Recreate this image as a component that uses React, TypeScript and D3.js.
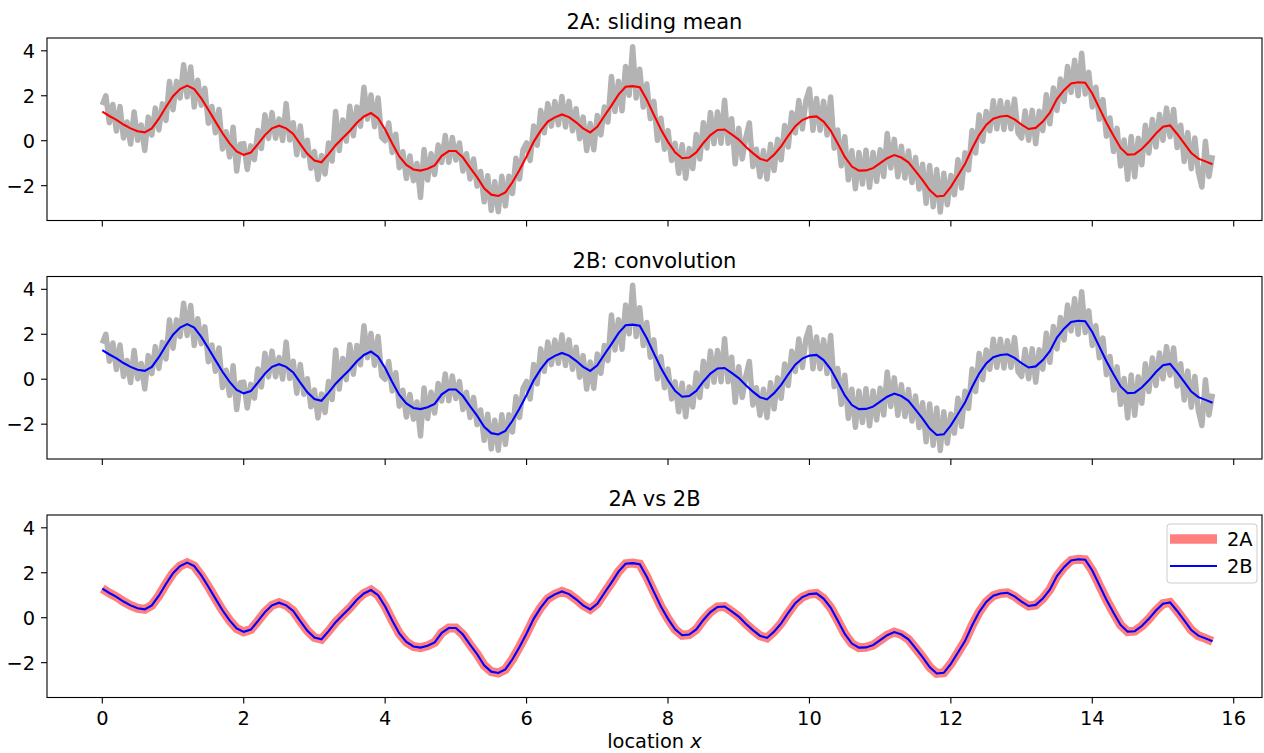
import React from "react";
import * as d3 from "d3";

// raw signal, sampled every 0.05 from x = 0
const noisy = [
  1.59, 2.0, 0.8, 1.61, 0.43, 1.52, 0.12, 0.83, -0.15, 1.28, 0.02, 0.7, -0.43, 1.05, 0.25, 1.45, 0.48, 1.64, 0.9, 2.64,
  1.38, 2.64, 1.9, 3.38, 1.95, 3.28, 1.5, 2.69, 1.58, 2.33, 0.78, 1.52, 0.35, 1.39, -0.37, 0.4, -0.72, 0.6, -1.35, -0.16,
  -0.13, -1.28, -0.23, -0.84, 0.45, -0.35, 1.15, 0.1, 1.25, 0.11, 0.97, 0.01, 1.65, 0.03, 0.8, -0.62, 0.65, -0.67, 0.02, -1.23,
  -0.48, -1.72, -0.66, -1.48, -0.1, -0.9, 1.3, -0.44, 0.92, -0.02, 1.53, 0.22, 1.5, 0.64, 2.38, 0.96, 2.03, 0.62, 1.9, 0.15,
  0.0, 0.79, -0.52, 0.29, -1.2, -0.49, -1.68, -0.68, -1.78, -1.01, -2.53, -0.39, -1.75, -0.58, -1.5, -0.19, -0.97, 0.23, -0.96, 0.14,
  -0.86, -0.1, -1.35, -0.58, -1.7, -0.81, -2.02, -1.37, -2.72, -1.56, -3.1, -1.83, -3.16, -1.58, -2.9, -1.58, -2.35, -0.78, -1.7, -0.4,
  -0.1, -0.88, 0.65, -0.2, 1.35, 0.35, 1.65, 0.65, 1.74, 0.71, 1.97, 0.61, 1.75, 0.44, 1.42, 0.09, 1.05, -0.44, 0.77, -0.4,
  1.12, 0.26, 1.5, 0.83, 2.86, 1.3, 2.65, 1.33, 3.3, 2.02, 4.18, 1.9, 3.18, 1.5, 2.52, 0.98, 1.75, 0.02, 1.0, -0.38,
  0.45, -0.88, -0.12, -1.45, -0.18, -1.67, -0.35, -1.24, 0.28, -0.81, 0.8, -0.32, 1.25, -0.13, 1.28, -0.11, 1.8, -0.11, 0.98, -1.03,
  0.55, -0.81, 0.13, 0.79, -1.15, -0.38, -1.6, -0.45, -1.7, -0.16, -1.32, 0.06, -0.85, 0.68, -0.28, 1.24, 0.35, 1.79, 0.52, 1.79,
  2.3, 0.47, 1.88, 0.47, 1.75, 0.25, 1.95, -0.33, 0.48, -1.12, 0.18, -1.74, -0.45, -2.14, -0.53, -1.93, -0.42, -2.07, -0.52, -1.81,
  -0.4, -1.59, 0.32, -1.21, 0.06, -1.6, -0.25, -1.66, -0.46, -1.86, -0.75, -2.15, -1.05, -2.78, -1.1, -2.94, -1.28, -3.17, -1.45, -2.85,
  -1.55, -2.4, -0.85, -2.1, -0.54, -1.3, 0.45, -0.55, 1.15, -0.02, 1.3, 0.44, 1.78, 0.53, 1.78, 0.5, 1.71, 0.53, 1.85, 0.34,
  0.12, 1.32, 0.02, 1.35, -0.13, 1.31, 0.45, 2.05, 0.75, 2.35, 1.35, 2.75, 1.75, 3.3, 2.15, 3.58, 2.0, 3.89, 2.08, 3.04,
  1.5, 2.38, 0.95, 1.83, 0.2, 1.01, -0.48, 0.55, -1.12, 0.03, -1.72, 0.19, -1.6, 0.11, -1.07, 0.69, -0.55, 0.94, -0.28, 1.17,
  0.02, 1.45, 0.18, 1.39, -0.3, 0.69, -0.92, 0.36, -1.25, 0.12, -1.4, -2.06, -0.02, -1.59, -0.65,
];
const noisyStep = 0.05;

// smoothed signal (2A sliding mean), every 0.1 from x = 0
const slidingMean = [
  1.29, 1.1, 0.93, 0.72, 0.55, 0.42, 0.37, 0.55, 0.98, 1.5,
  1.98, 2.3, 2.45, 2.3, 1.88, 1.38, 0.85, 0.33, -0.12, -0.48,
  -0.63, -0.53, -0.15, 0.25, 0.55, 0.67, 0.55, 0.3, -0.15, -0.58,
  -0.88, -0.96, -0.6, -0.2, 0.12, 0.43, 0.8, 1.08, 1.23, 1.0,
  0.5, -0.12, -0.7, -1.08, -1.28, -1.33, -1.25, -1.1, -0.67, -0.46,
  -0.46, -0.75, -1.2, -1.62, -2.12, -2.4, -2.46, -2.3, -1.85, -1.3,
  -0.7, -0.05, 0.45, 0.85, 1.04, 1.17, 1.05, 0.82, 0.55, 0.37,
  0.62, 1.1, 1.56, 2.05, 2.4, 2.43, 2.38, 1.82, 1.15, 0.5,
  -0.05, -0.52, -0.78, -0.75, -0.52, -0.1, 0.25, 0.48, 0.5, 0.28,
  0.05, -0.27, -0.55, -0.8, -0.9, -0.62, -0.25, 0.22, 0.65, 0.92,
  1.05, 1.08, 0.85, 0.45, -0.12, -0.72, -1.15, -1.33, -1.32, -1.22,
  -1.0, -0.78, -0.64, -0.75, -0.96, -1.35, -1.75, -2.2, -2.48, -2.45,
  -2.05, -1.55, -1.04, -0.35, 0.25, 0.7, 0.98, 1.08, 1.11, 0.95,
  0.72, 0.52, 0.57, 0.85, 1.25, 1.85, 2.25, 2.55, 2.6, 2.58,
  2.1, 1.45, 0.8, 0.22, -0.32, -0.62, -0.6, -0.37, -0.05, 0.32,
  0.62, 0.68, 0.3, -0.12, -0.55, -0.8, -0.92, -1.05,
];
// 2B convolution gives the same curve
const convolution = slidingMean;
const smoothStep = 0.1;

const xTicks = [0, 2, 4, 6, 8, 10, 12, 14, 16];
const yTicks = [-2, 0, 2, 4];
const titles = ["2A: sliding mean", "2B: convolution", "2A vs 2B"];
const legendLabels = ["2A", "2B"];

const W = 1264;
const H = 753;
const left = 47;
const right = 1262;
const panelH = 182.5;
const tops = [38, 276.5, 515];
const font = "DejaVu Sans, sans-serif";
const fs = 19.4;
const titleFs = 21;

const x = d3.scaleLinear().domain([-0.782, 16.4]).range([left, right]);

const fmt = (v: number) => (v < 0 ? "\u2212" + Math.abs(v) : String(v));

const Panel = ({ idx }: { idx: number }) => {
  const top = tops[idx];
  const y = d3.scaleLinear().domain([-3.55, 4.57]).range([top + panelH, top]);
  const noisyLine = d3
    .line<number>()
    .x((_, i) => x(i * noisyStep))
    .y((d) => y(d));
  const smoothLine = d3
    .line<number>()
    .x((_, i) => x(i * smoothStep))
    .y((d) => y(d));
  const bottom = top + panelH;
  return (
    <g>
      <text x={(left + right) / 2} y={top - 9} textAnchor="middle" fontFamily={font} fontSize={titleFs}>
        {titles[idx]}
      </text>
      {idx < 2 && (
        <path d={noisyLine(noisy) || ""} fill="none" stroke="#b3b3b3" strokeWidth={5.5} strokeLinejoin="round" />
      )}
      {idx === 0 && <path d={smoothLine(slidingMean) || ""} fill="none" stroke="#ff0000" strokeWidth={2.1} />}
      {idx === 1 && <path d={smoothLine(convolution) || ""} fill="none" stroke="#0000ff" strokeWidth={2.1} />}
      {idx === 2 && (
        <>
          <path d={smoothLine(slidingMean) || ""} fill="none" stroke="#ff0000" strokeOpacity={0.5} strokeWidth={9} />
          <path d={smoothLine(convolution) || ""} fill="none" stroke="#0000ff" strokeWidth={2.1} />
        </>
      )}
      <rect x={left} y={top} width={right - left} height={panelH} fill="none" stroke="#000" strokeWidth={1.1} />
      {yTicks.map((t) => (
        <g key={t}>
          <line x1={left - 6} x2={left} y1={y(t)} y2={y(t)} stroke="#000" strokeWidth={1.1} />
          <text x={left - 12} y={y(t)} dy="0.36em" textAnchor="end" fontFamily={font} fontSize={fs}>
            {fmt(t)}
          </text>
        </g>
      ))}
      {xTicks.map((t) => (
        <g key={t}>
          <line x1={x(t)} x2={x(t)} y1={bottom} y2={bottom + 6} stroke="#000" strokeWidth={1.1} />
          {idx === 2 && (
            <text x={x(t)} y={bottom + 27.3} textAnchor="middle" fontFamily={font} fontSize={fs}>
              {t}
            </text>
          )}
        </g>
      ))}
      {idx === 2 && (
        <g>
          <rect x={1167} y={524} width={90} height={59} rx={3} fill="#fff" fillOpacity={0.8} stroke="#cccccc" />
          <line x1={1170} x2={1217} y1={539} y2={539} stroke="#ff0000" strokeOpacity={0.5} strokeWidth={9.5} />
          <text x={1227} y={539} dy="0.36em" fontFamily={font} fontSize={fs}>
            {legendLabels[0]}
          </text>
          <line x1={1170} x2={1217} y1={566} y2={566} stroke="#0000ff" strokeWidth={2.1} />
          <text x={1227} y={566} dy="0.36em" fontFamily={font} fontSize={fs}>
            {legendLabels[1]}
          </text>
        </g>
      )}
    </g>
  );
};

export default function App() {
  return (
    <svg width={W} height={H} style={{ position: "absolute", left: 0, top: 0, background: "#fff" }}>
      {tops.map((_, i) => (
        <Panel key={i} idx={i} />
      ))}
      <text x={(left + right) / 2} y={748} textAnchor="middle" fontFamily={font} fontSize={fs}>
        location <tspan fontStyle="italic">x</tspan>
      </text>
    </svg>
  );
}
